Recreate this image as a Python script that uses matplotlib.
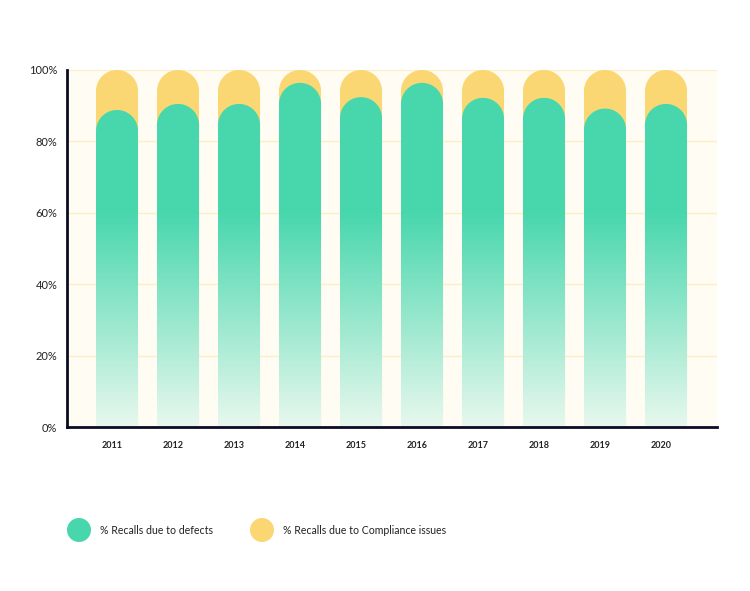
import numpy as np
import matplotlib.pyplot as plt
from matplotlib.patches import Polygon, Circle
from matplotlib.colors import LinearSegmentedColormap

# data
years = ['2011', '2012', '2013', '2014', '2015', '2016', '2017', '2018', '2019', '2020']
defects = [88.8, 90.5, 90.5, 96.4, 92.4, 96.4, 92.2, 92.2, 89.2, 90.5]
compliance = [100 - d for d in defects]
legend_labels = ['% Recalls due to defects', '% Recalls due to Compliance issues']

green = '#48d7ad'
yellow = '#fad773'
bg = '#fffcf3'
grid_col = '#fcefc6'
dark = '#0b0b24'

plt.rcParams['font.family'] = ['Lato', 'DejaVu Sans']

W, H = 750, 591
fig = plt.figure(figsize=(W / 100, H / 100), dpi=100)
ax_pos = [67 / W, 164 / H, 650 / W, 357 / H]
ax = fig.add_axes(ax_pos)
ax.set_facecolor(bg)

x = np.arange(len(years))
xlim = (-0.82, 9.836)
ylim = (0, 100)
ax.set_xlim(*xlim)
ax.set_ylim(*ylim)

bar_w = 0.689
px_x = ax_pos[2] * W / (xlim[1] - xlim[0])
px_y = ax_pos[3] * H / (ylim[1] - ylim[0])
ry = (bar_w / 2) * px_x / px_y


def rounded_bar(xc, top):
    th = np.linspace(0, np.pi, 60)
    arc = np.column_stack([xc + bar_w / 2 * np.cos(th), top - ry + ry * np.sin(th)])
    pts = np.vstack([[xc - bar_w / 2, 0], [xc + bar_w / 2, 0], arc])
    return pts


cmap = LinearSegmentedColormap.from_list(
    'g', [(0, '#e8f8ee'), (0.6, green), (1, green)])
grad = np.linspace(0, 1, 256).reshape(-1, 1)

for i, (d, c) in enumerate(zip(defects, compliance)):
    ypoly = Polygon(rounded_bar(x[i], d + c), closed=True, facecolor=yellow,
                    edgecolor='none', zorder=2)
    ax.add_patch(ypoly)
    gpoly = Polygon(rounded_bar(x[i], d), closed=True, facecolor='none',
                    edgecolor='none', zorder=3)
    ax.add_patch(gpoly)
    im = ax.imshow(grad, cmap=cmap, origin='lower', aspect='auto',
                   extent=[x[i] - bar_w / 2, x[i] + bar_w / 2, 0, 100], zorder=3)
    im.set_clip_path(gpoly)

ax.set_xlim(*xlim)
ax.set_ylim(*ylim)

ax.set_yticks([0, 20, 40, 60, 80, 100])
ax.set_yticklabels(['0%', '20%', '40%', '60%', '80%', '100%'], fontsize=8, color='#222222')
ax.set_xticks(x - 0.08)
ax.set_xticklabels(years, fontsize=6.5, fontweight='bold', color='#222222')
ax.tick_params(axis='y', length=0, pad=7)
ax.tick_params(axis='x', length=0, pad=10)
ax.grid(axis='y', color=grid_col, linewidth=1, zorder=1)
ax.set_axisbelow(True)

for s in ['top', 'right']:
    ax.spines[s].set_visible(False)
ax.spines['left'].set_color(dark)
ax.spines['left'].set_linewidth(2)
ax.spines['bottom'].set_color(dark)
ax.spines['bottom'].set_linewidth(2)
ax.spines['left'].set_zorder(5)
ax.spines['bottom'].set_zorder(5)

# legend
lx = [79, 262]
for j, (lab, col) in enumerate(zip(legend_labels, [green, yellow])):
    circ = Circle((lx[j] / 100, (H - 530) / 100), 0.12,
                  transform=fig.dpi_scale_trans, facecolor=col, edgecolor='none')
    fig.patches.append(circ)
    fig.text((lx[j] + 21) / W, 1 - 530 / H, lab, fontsize=7.6, va='center',
             ha='left', color='#222222')

fig.savefig('out.png', dpi=100)
